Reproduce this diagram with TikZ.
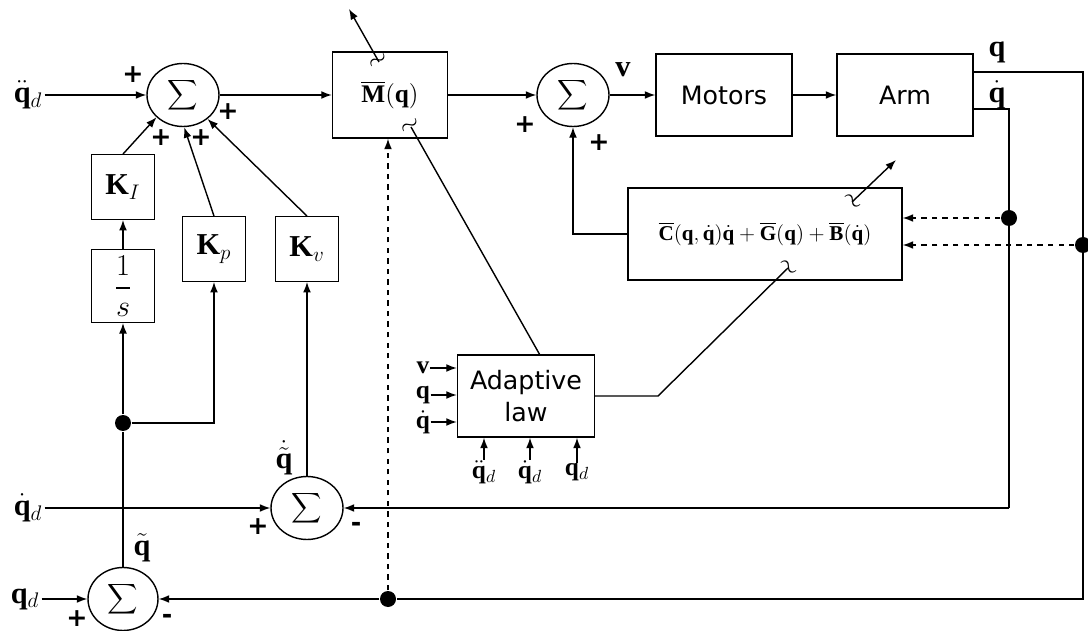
\documentclass[tikz,border=0pt]{standalone}
\usepackage{amsmath}
\usepackage{fontspec}
\setmainfont{Liberation Serif}
\newfontfamily\blockfont{DejaVu Sans}
\usetikzlibrary{shapes.geometric,arrows.meta}

\begin{document}
\begin{tikzpicture}[x=0.02cm, y=-0.02cm, line width=0.8pt,
        block/.style={rectangle, draw, minimum width=2.72cm, minimum height=1.64cm, font=\blockfont\Large, align=center},
        gain/.style={rectangle, draw, minimum width=1.27cm, minimum height=1.29cm, font=\LARGE},
        sumnode/.style={ellipse, draw, minimum width=1.44cm, minimum height=1.26cm, inner sep=0pt, font=\large},
        dot/.style={circle, fill, inner sep=0pt, minimum size=0.32cm},
        sign/.style={font=\blockfont\bfseries\Large, inner sep=0pt},
        lbl/.style={font=\LARGE, inner sep=1pt},
        inlbl/.style={font=\Large, inner sep=0pt},
        tick/.style={inner sep=0pt, font=\Large},
        line/.style={draw, -{Latex[length=6pt,width=4.5pt]}}]

        \useasboundingbox (0,0) rectangle (1088,631);

        \node [sumnode] (sum1) at (183,95) {$\displaystyle\sum$};
        \node [rectangle, draw, minimum width=2.3cm, minimum height=1.72cm, font=\Large] (mq) at (390,95) {$\overline{\mathbf{M}}(\mathbf{q})$};
        \node [sumnode] (sum2) at (573,95) {$\displaystyle\sum$};
        \node [block] (motors) at (724,95) {Motors};
        \node [block] (arm) at (905,95) {Arm};
        \node [rectangle, draw, minimum width=5.48cm, minimum height=1.84cm, font=\large] (cbox) at (765,234)
            {$\overline{\mathbf{C}}(\mathbf{q},\dot{\mathbf{q}})\dot{\mathbf{q}}+\overline{\mathbf{G}}(\mathbf{q})+\overline{\mathbf{B}}(\dot{\mathbf{q}})$};
        \node [gain] (ki) at (123,187) {$\mathbf{K}_I$};
        \node [gain] (invs) at (123,286) {$\dfrac{1}{s}$};
        \node [gain] (kp) at (214,249) {$\mathbf{K}_p$};
        \node [gain] (kv) at (307,249) {$\mathbf{K}_v$};
        \node [block, minimum width=2.74cm] (adapt) at (526,396) {Adaptive\\law};
        \node [sumnode] (sum3) at (307,508) {$\displaystyle\sum$};
        \node [sumnode, minimum width=1.4cm] (sum4) at (123,599) {$\displaystyle\sum$};

        \node [dot] (d1) at (123,423) {};
        \node [dot] (d2) at (388,599) {};
        \node [dot] (d3) at (1009,218) {};
        \node [dot] (d4) at (1083,245) {};

        \node [lbl] (qdd) at (28,95) {$\ddot{\mathbf{q}}_d$};
        \node [lbl] (qd1) at (28,508) {$\dot{\mathbf{q}}_d$};
        \node [lbl] (qd0) at (25,599) {$\mathbf{q}_d$};
        \node [lbl] (vout) at (623,70) {$\mathbf{v}$};
        \node [lbl] (qlbl) at (997,52) {$\mathbf{q}$};
        \node [lbl] (qdlbl) at (997,95) {$\dot{\mathbf{q}}$};
        \node [lbl] (etil) at (284,458) {$\dot{\tilde{\mathbf{q}}}$};
        \node [lbl] (etilq) at (142,548) {$\tilde{\mathbf{q}}$};

        \node [inlbl] (av) at (423,368) {$\mathbf{v}$};
        \node [inlbl] (aq) at (423,395) {$\mathbf{q}$};
        \node [inlbl] (aqd) at (423,422) {$\dot{\mathbf{q}}$};
        \node [inlbl] (aqdd) at (484,472) {$\ddot{\mathbf{q}}_d$};
        \node [inlbl] (aqd1) at (530,472) {$\dot{\mathbf{q}}_d$};
        \node [inlbl] (aqd0) at (577,472) {$\mathbf{q}_d$};

        \node [sign] (s1a) at (133,75) {+};
        \node [sign] (s1b) at (161,138) {+};
        \node [sign] (s1c) at (201,138) {+};
        \node [sign] (s1d) at (228,112) {+};
        \node [sign] (s2a) at (525,125) {+};
        \node [sign] (s2b) at (599,143) {+};
        \node [sign] (s3a) at (258,527) {+};
        \node [sign] (s3b) at (356,527) {-};
        \node [sign] (s4a) at (77,619) {+};
        \node [sign] (s4b) at (167,619) {-};

        \node [tick, rotate=30] (t1) at (379,62) {$\sim$};
        \node [tick, rotate=30] (t2) at (411,127) {$\sim$};
        \node [tick, rotate=-45] (t3) at (852,202) {$\sim$};
        \node [tick, rotate=-45] (t4) at (788,268) {$\sim$};
        \coordinate (mtip) at (349,9);
        \coordinate (ctip) at (896,160);
        \coordinate (abend) at (658,396);
        \coordinate (qr) at (1083,72);
        \coordinate (qdr) at (1009,109);

        \path [line] (qdd) -- (sum1);
        \path [line] (sum1) -- (mq);
        \path [line] (mq) -- (sum2);
        \path [line] (sum2) -- (motors);
        \path [line] (motors) -- (arm);

        \draw (arm.east |- qr) -- (qr) -- (qr |- d2) -- (d2);
        \path [line] (d2) -- (sum4);
        \draw (arm.east |- qdr) -- (qdr) -- (qdr |- sum3);
        \path [line] (qdr |- sum3) -- (sum3);
        \path [line, dashed] (d3) -- (d3 -| cbox.east);
        \path [line, dashed] (d4) -- (d4 -| cbox.east);
        \path [line, dashed] (d2) -- (d2 |- mq.south);
        \path [line] (cbox) -| (sum2);

        \path [line] (qd1) -- (sum3);
        \path [line] (qd0) -- (sum4);
        \draw (sum4) -- (d1);
        \path [line] (d1) -- (invs);
        \path [line] (invs) -- (ki);
        \path [line] (d1) -| (kp);
        \path [line] (sum3) -- (kv);
        \path [line] (ki.north) -- (sum1.220);
        \path [line] (kp.north) -- (sum1.-88);
        \path [line] (kv.north) -- (sum1);

        \path [line] (av) -- (av -| adapt.west);
        \path [line] (aq) -- (aq -| adapt.west);
        \path [line] (aqd) -- (aqd -| adapt.west);
        \path [line] (aqdd) -- (aqdd |- adapt.south);
        \path [line] (aqd1) -- (aqd1 |- adapt.south);
        \path [line] (aqd0) -- (aqd0 |- adapt.south);

        \path [line] (t1.center) -- (mtip);
        \draw (t2.center) -- (adapt.72);
        \path [line] (t3.center) -- (ctip);
        \draw (adapt) -- (abend) -- (t4.center);
\end{tikzpicture}
\end{document}
